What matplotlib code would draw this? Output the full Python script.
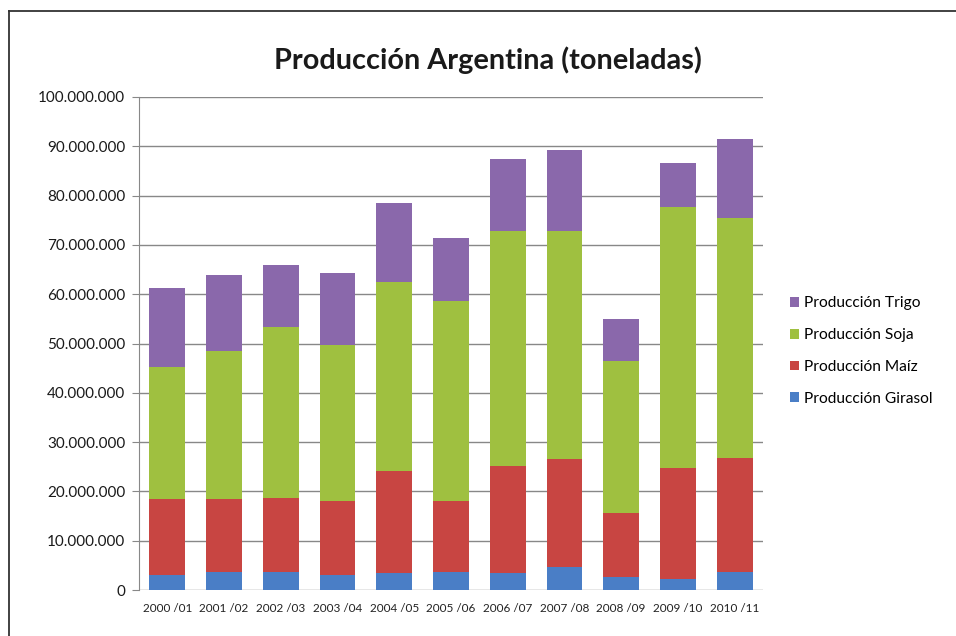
import matplotlib.pyplot as plt
import numpy as np
from matplotlib.lines import Line2D
from matplotlib.ticker import FuncFormatter

plt.rcParams['font.family'] = ['Lato', 'DejaVu Sans']

# campañas
campanias = ['2000 /01', '2001 /02', '2002 /03', '2003 /04', '2004 /05', '2005 /06',
             '2006 /07', '2007 /08', '2008 /09', '2009 /10', '2010 /11']

# produccion en toneladas
girasol = [3.0e6, 3.7e6, 3.7e6, 3.0e6, 3.5e6, 3.7e6, 3.5e6, 4.6e6, 2.6e6, 2.2e6, 3.7e6]
maiz = [15.4e6, 14.8e6, 15.0e6, 15.05e6, 20.6e6, 14.35e6, 21.7e6, 22.0e6, 13.1e6, 22.6e6, 23.0e6]
soja = [26.9e6, 30.0e6, 34.7e6, 31.65e6, 38.3e6, 40.55e6, 47.6e6, 46.2e6, 30.8e6, 52.8e6, 48.7e6]
trigo = [16.0e6, 15.3e6, 12.5e6, 14.5e6, 16.0e6, 12.7e6, 14.6e6, 16.4e6, 8.4e6, 9.0e6, 16.0e6]

series = [('Producción Girasol', girasol, '#4a7ec6'),
          ('Producción Maíz', maiz, '#c84542'),
          ('Producción Soja', soja, '#9fc040'),
          ('Producción Trigo', trigo, '#8a68ab')]

fig = plt.figure(figsize=(9.56, 6.36), dpi=100)
ax = fig.add_axes([139 / 956, 1 - 590 / 636, (763 - 139) / 956, (590 - 97) / 636])

x = np.arange(len(campanias))
bottom = np.zeros(len(campanias))
handles = []
for nombre, vals, col in series:
    b = ax.bar(x, vals, 0.63, bottom=bottom, color=col, label=nombre, zorder=3)
    handles.append(b)
    bottom += np.array(vals)

ax.set_xlim(-0.5, len(campanias) - 0.5)
ax.set_ylim(0, 100e6)
ax.set_yticks(np.arange(0, 100e6 + 1, 10e6))
ax.yaxis.set_major_formatter(FuncFormatter(lambda v, p: f'{int(v):,}'.replace(',', '.')))
ax.set_xticks(x)
ax.set_xticklabels(campanias, fontsize=8.5, color='#222222')
ax.tick_params(axis='y', labelsize=11, colors='#1a1a1a', length=5, color='#888888', pad=5)
ax.tick_params(axis='x', length=0, pad=9)
ax.grid(axis='y', color='#888888', linewidth=1, zorder=0)
for s in ['top', 'right', 'bottom']:
    ax.spines[s].set_visible(False)
ax.spines['left'].set_color('#888888')

fig.text(488 / 956, 1 - 60 / 636, 'Producción Argentina (toneladas)', ha='center', va='center',
         fontsize=20.8, fontweight='bold', color='#1a1a1a')

leg = fig.legend(handles[::-1], [h.get_label() for h in handles[::-1]],
                 loc='center left', bbox_to_anchor=(776 / 956, 1 - 351 / 636),
                 frameon=False, fontsize=11.2, handlelength=0.6, handleheight=0.6,
                 handletextpad=0.3, labelspacing=1.15)

# marco de la imagen
fig.add_artist(Line2D([9 / 956, 9 / 956], [0, 1 - 11 / 636], color='#333333', lw=1.3))
fig.add_artist(Line2D([9 / 956, 1], [1 - 11 / 636, 1 - 11 / 636], color='#333333', lw=1.3))

fig.savefig('out.png', dpi=100)
